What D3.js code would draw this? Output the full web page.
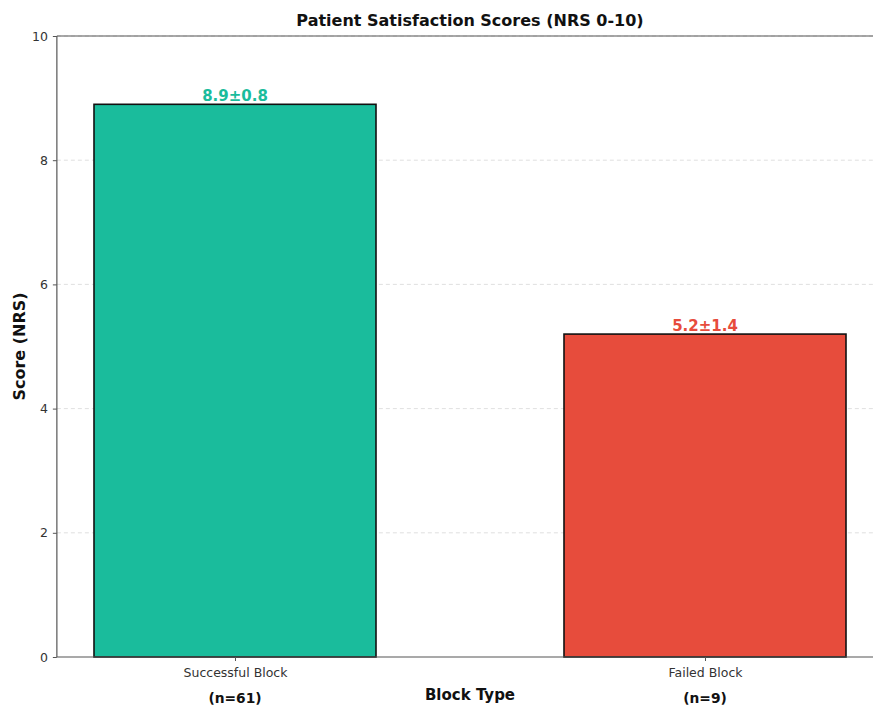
<!DOCTYPE html>
<html>
<head>
<meta charset="utf-8">
<script src="https://cdn.jsdelivr.net/npm/d3@7"></script>
<style>
  body { margin: 0; background: #fff; }
  svg { font-family: "DejaVu Sans", sans-serif; }
</style>
</head>
<body>
<script>
// data
const categories = ["Successful Block", "Failed Block"];
const means = [8.9, 5.2];
const sds = [0.8, 1.4];
const counts = [61, 9];
const colors = ["#1abc9c", "#e74c3c"];
const yTicks = [0, 2, 4, 6, 8, 10];

const width = 873, height = 708;

const svg = d3.select("body").append("svg")
    .attr("width", width)
    .attr("height", height);

// x positions in data units (bar index), like matplotlib
const x = d3.scaleLinear().domain([0, 1]).range([235, 705]);
const y = d3.scaleLinear().domain([0, 10]).range([657, 36]);
const barW = x(0.6) - x(0);
const left = x(-0.379), right = x(1.379);

// grid
svg.append("g")
    .selectAll("line")
    .data(yTicks.slice(1))
    .enter().append("line")
    .attr("x1", left).attr("x2", right)
    .attr("y1", d => y(d)).attr("y2", d => y(d))
    .attr("stroke", "#d8d8d8")
    .attr("stroke-width", 0.8)
    .attr("stroke-dasharray", "4,3");

// bars
svg.append("g")
    .selectAll("rect")
    .data(means)
    .enter().append("rect")
    .attr("x", (d, i) => x(i) - barW / 2)
    .attr("y", d => y(d))
    .attr("width", barW)
    .attr("height", d => y(0) - y(d))
    .attr("fill", (d, i) => colors[i])
    .attr("stroke", "#111")
    .attr("stroke-width", 1.6);

// value labels
svg.append("g")
    .selectAll("text")
    .data(means)
    .enter().append("text")
    .attr("x", (d, i) => x(i))
    .attr("y", d => y(d) - 3)
    .attr("text-anchor", "middle")
    .attr("font-size", 15)
    .attr("font-weight", "bold")
    .attr("fill", (d, i) => colors[i])
    .text((d, i) => `${d.toFixed(1)}±${sds[i].toFixed(1)}`);

// spines
svg.append("line")
    .attr("x1", left).attr("x2", left)
    .attr("y1", y(10)).attr("y2", y(0))
    .attr("stroke", "#555").attr("stroke-width", 1.2);
svg.append("line")
    .attr("x1", left).attr("x2", right)
    .attr("y1", y(0)).attr("y2", y(0))
    .attr("stroke", "#555").attr("stroke-width", 1.2);
svg.append("line")
    .attr("x1", left).attr("x2", right)
    .attr("y1", y(10)).attr("y2", y(10))
    .attr("stroke", "#555").attr("stroke-width", 1.2);

// y axis
const yAxis = svg.append("g")
    .attr("transform", `translate(${left},0)`)
    .call(d3.axisLeft(y).tickValues(yTicks).tickSize(4).tickPadding(5));
yAxis.select(".domain").remove();
yAxis.selectAll(".tick line").attr("stroke", "#555");
yAxis.selectAll(".tick text")
    .attr("font-family", "DejaVu Sans, sans-serif")
    .attr("font-size", 12.5)
    .attr("fill", "#333");

// x axis
const xAxis = svg.append("g")
    .attr("transform", `translate(0,${y(0)})`)
    .call(d3.axisBottom(x).tickValues([0, 1]).tickFormat((d, i) => categories[i]).tickSize(4).tickPadding(7));
xAxis.select(".domain").remove();
xAxis.selectAll(".tick line").attr("stroke", "#555");
xAxis.selectAll(".tick text")
    .attr("font-family", "DejaVu Sans, sans-serif")
    .attr("font-size", 12.5)
    .attr("fill", "#333");

// n labels
svg.append("g")
    .selectAll("text")
    .data(counts)
    .enter().append("text")
    .attr("x", (d, i) => x(i))
    .attr("y", 703)
    .attr("text-anchor", "middle")
    .attr("font-size", 13.8)
    .attr("font-weight", "bold")
    .attr("fill", "#111")
    .text(d => `(n=${d})`);

// titles
svg.append("text")
    .attr("x", 470).attr("y", 26)
    .attr("text-anchor", "middle")
    .attr("font-size", 16)
    .attr("font-weight", "bold")
    .attr("fill", "#111")
    .text("Patient Satisfaction Scores (NRS 0-10)");

svg.append("text")
    .attr("x", 470).attr("y", 700)
    .attr("text-anchor", "middle")
    .attr("font-size", 15)
    .attr("font-weight", "bold")
    .attr("fill", "#111")
    .text("Block Type");

svg.append("text")
    .attr("transform", `translate(25,${(y(0) + y(10)) / 2}) rotate(-90)`)
    .attr("text-anchor", "middle")
    .attr("font-size", 16)
    .attr("font-weight", "bold")
    .attr("fill", "#111")
    .text("Score (NRS)");
</script>
</body>
</html>
